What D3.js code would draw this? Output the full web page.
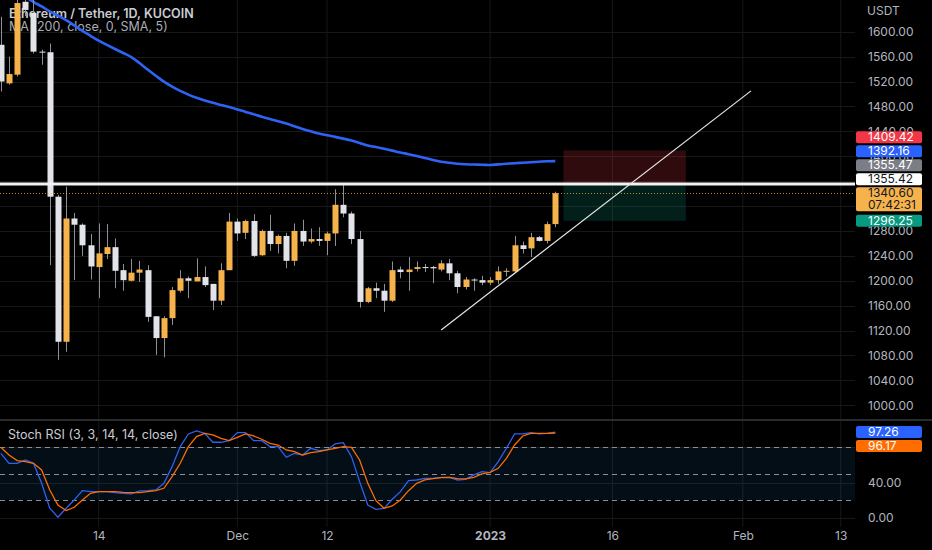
<!DOCTYPE html>
<html>
<head>
<meta charset="utf-8">
<script src="https://cdn.jsdelivr.net/npm/d3@7"></script>
<style>
  html, body { margin: 0; padding: 0; background: #000; overflow: hidden; }
  svg { display: block; font-family: Inter, "Noto Sans", sans-serif; }
</style>
</head>
<body>
<script>
// ---- data ----
var dates = [
  "2022-11-02","2022-11-03","2022-11-04","2022-11-05","2022-11-06","2022-11-07","2022-11-08","2022-11-09","2022-11-10","2022-11-11",
  "2022-11-12","2022-11-13","2022-11-14","2022-11-15","2022-11-16","2022-11-17","2022-11-18","2022-11-19","2022-11-20","2022-11-21",
  "2022-11-22","2022-11-23","2022-11-24","2022-11-25","2022-11-26","2022-11-27","2022-11-28","2022-11-29","2022-11-30",
  "2022-12-01","2022-12-02","2022-12-03","2022-12-04","2022-12-05","2022-12-06","2022-12-07","2022-12-08","2022-12-09","2022-12-10",
  "2022-12-11","2022-12-12","2022-12-13","2022-12-14","2022-12-15","2022-12-16","2022-12-17","2022-12-18","2022-12-19","2022-12-20",
  "2022-12-21","2022-12-22","2022-12-23","2022-12-24","2022-12-25","2022-12-26","2022-12-27","2022-12-28","2022-12-29","2022-12-30",
  "2022-12-31","2023-01-01","2023-01-02","2023-01-03","2023-01-04","2023-01-05","2023-01-06","2023-01-07","2023-01-08","2023-01-09"
];
var opens = [
  1579,1517,1531,1648,1630,1568,1567,1335,1102,1300, 1290,1257,1222,1243,1254,1217,1200,1213,1217,1143,
  1108,1140,1184,1204,1199,1206,1195,1168,1217,
  1295,1277,1296,1241,1280,1259,1272,1232,1280,1263, 1267,1264,1276,1322,1308,1267,1166,1188,1184,1168,
  1218,1214,1219,1222,1222,1218,1228,1212,1190,1202, 1201,1197,1201,1215,1215,1257,1252,1270,1264,1291
];
var highs = [
  1624,1560,1670,1665,1652,1571,1581,1338,1351,1309, 1292,1275,1292,1291,1268,1227,1235,1232,1225,1143,
  1143,1190,1217,1207,1236,1223,1195,1228,1309,
  1300,1298,1307,1282,1306,1274,1277,1292,1298,1284, 1286,1279,1347,1354,1311,1280,1190,1197,1195,1231,
  1223,1238,1231,1227,1224,1233,1235,1216,1206,1204, 1208,1206,1223,1220,1272,1263,1277,1272,1295,1343
];
var lows = [
  1504,1515,1528,1625,1565,1547,1225,1073,1086,1201, 1240,1202,1172,1235,1188,1184,1199,1198,1134,1081,
  1077,1129,1181,1172,1199,1190,1153,1161,1217,
  1264,1267,1238,1240,1248,1244,1220,1224,1256,1260, 1256,1241,1256,1302,1259,1157,1164,1172,1150,1166,
  1204,1184,1215,1214,1196,1215,1201,1180,1186,1184, 1193,1193,1195,1207,1214,1244,1238,1263,1260,1286
];
var closes = [
  1520,1532,1646,1635,1568,1567,1335,1102,1300,1290, 1257,1223,1244,1254,1216,1201,1213,1218,1142,1108,
  1140,1185,1204,1200,1206,1193,1168,1217,1295,
  1276,1296,1240,1280,1259,1272,1232,1280,1263,1267, 1264,1276,1322,1308,1267,1166,1188,1184,1168,1217,
  1214,1218,1222,1221,1220,1228,1212,1190,1202,1201, 1197,1201,1215,1216,1257,1251,1270,1264,1291,1340.6
];
var maValues = [
  null,null,null,1656,1648,1640.5,1632.8,1625.7,1618.6,1610.1, 1601.4,1593.4,1585.5,1578.8,1572.2,1565.8,1559.2,1549.7,1539.3,1529.3,
  1519.7,1511.8,1504.9,1499,1493.9,1489.6,1485.8,1482.3,1478.9,
  1475.2,1471.2,1467.3,1463.3,1459.7,1456.3,1452.4,1448.1,1443.7,1440, 1436.4,1433.6,1431.1,1428.3,1425.1,1421.4,1417.4,1414.8,1411.9,1409,
  1406,1403.3,1400.4,1397.3,1394.1,1391.1,1389.5,1388,1387.2,1386.7, 1386.4,1385.9,1386.9,1387.9,1388.8,1389.6,1390.4,1391.2,1392,1392.16
];
var stochK = [
  73.2,61.9,61.9,65.7,61.9,39.2,11,0.8,11,20.4, 31,29.8,29.8,29.8,28.7,27.9,27.2,30.6,31,31.7,
  39.2,58.1,80.8,95.1,98.5,95.8,85.7,85.7,87.5,
  96.6,96.6,87.5,87.5,80.8,80.8,68.7,73.2,71.3,78.9, 76.2,77,83.8,85.3,69.4,41.1,14.7,9.8,10.9,21.1,
  29.8,42.3,43,44.9,44.9,46,46,43,43.8,48.7, 52.5,51.3,63.8,78.9,95.1,95.1,96.6,95.1,95.8,97.26
];
var stochD = [
  80,71.3,64.9,63.8,61.9,54.3,31.7,14.7,8.3,12.1, 20.4,27.9,29.8,29.8,29.8,29,28.7,28.7,29.8,31,
  33.6,46.8,61.9,80.8,92.1,95.8,94,90.2,87.5,
  91.3,95.1,92.8,89.1,84.5,82.6,77,75.1,71.3,74, 75.1,77,78.9,80.8,80,65.7,39.2,19.6,10.9,13.6,
  20.4,30.9,39.2,43,44.5,45.7,46,44.5,44.2,46, 49.8,51.7,56.2,67.5,82.6,92.8,95.8,95.8,95.8,96.17
];

var priceTicks = [1000,1040,1080,1120,1160,1200,1240,1280,1320,1360,1400,1440,1480,1520,1560,1600];
var stochTicks = [0, 40, 80];
var stochBands = [80, 50, 20];
var timeTicks = ["2022-11-14","2022-12-01","2022-12-12","2023-01-01","2023-01-16","2023-02-01","2023-02-13"];
var timeTickLabels = ["14","Dec","12","2023","16","Feb","13"];

var resistance = 1355.42;
var lastPrice = 1340.60;
var countdown = "07:42:31";
var trendDates = ["2022-12-26","2023-02-02"];
var trendPrices = [1121, 1505];
var positionDates = ["2023-01-10","2023-01-25"];
var positionTarget = 1409.42, positionEntry = 1355.47, positionStop = 1296.25;

// ---- layout ----
var W = 932, H = 550;
var plotW = 855;          // right edge of the panes, price axis after it
var mainBottom = 419;
var axisX = 856, labelTextX = 868;

var parse = d3.utcParse("%Y-%m-%d");
var candles = dates.map(function(d, i){
  return {date: parse(d), o: opens[i], h: highs[i], l: lows[i], c: closes[i],
          ma: maValues[i], k: stochK[i], dd: stochD[i]};
});

// scales
var xScale = d3.scaleUtc()
  .domain([parse("2022-11-14"), parse("2023-02-13")])
  .range([98.7, 840.7]);
var yScale = d3.scaleLinear().domain([1000, 1600]).range([405.3, 31.7]);
var sScale = d3.scaleLinear().domain([20, 80]).range([500.3, 447.3]);

var upCol = "#f6b34c", downCol = "#e2e4ea", wickCol = "#8e9098";

var svg = d3.select("body").append("svg")
  .attr("width", W).attr("height", H);
svg.append("rect").attr("width", W).attr("height", H).attr("fill", "#000");

var defs = svg.append("defs");
defs.append("clipPath").attr("id", "mainClip")
  .append("rect").attr("x", 0).attr("y", 0).attr("width", plotW).attr("height", mainBottom);
defs.append("clipPath").attr("id", "stochClip")
  .append("rect").attr("x", 0).attr("y", mainBottom + 2).attr("width", plotW).attr("height", 110);

// grid
var grid = svg.append("g").attr("stroke", "#161719").attr("stroke-width", 1);
grid.selectAll("line.v").data(timeTicks).enter().append("line")
  .attr("x1", function(d){ return xScale(parse(d)); })
  .attr("x2", function(d){ return xScale(parse(d)); })
  .attr("y1", 0).attr("y2", 527);
grid.selectAll("line.h").data(priceTicks).enter().append("line")
  .attr("x1", 0).attr("x2", plotW)
  .attr("y1", function(d){ return Math.round(yScale(d)) + 0.5; })
  .attr("y2", function(d){ return Math.round(yScale(d)) + 0.5; });
grid.selectAll("line.s").data(stochTicks).enter().append("line")
  .attr("x1", 0).attr("x2", plotW)
  .attr("y1", function(d){ return Math.round(sScale(d)) + 0.5; })
  .attr("y2", function(d){ return Math.round(sScale(d)) + 0.5; });

// legend (sits under the candles like in the screenshot)
svg.append("text").attr("x", 9).attr("y", 17.5)
  .attr("fill", "#c9ccd4").attr("font-size", 12.5).attr("font-weight", 600)
  .text("Ethereum / Tether, 1D, KUCOIN");
svg.append("text").attr("x", 9).attr("y", 31)
  .attr("fill", "#a9acb5").attr("font-size", 12.5)
  .text("MA (200, close, 0, SMA, 5)");

var main = svg.append("g").attr("clip-path", "url(#mainClip)");

// long position box
var px0 = xScale(parse(positionDates[0])), px1 = xScale(parse(positionDates[1]));
main.append("rect").attr("x", px0).attr("width", px1 - px0)
  .attr("y", yScale(positionTarget)).attr("height", yScale(positionEntry) - yScale(positionTarget))
  .attr("fill", "rgba(242,54,69,0.2)");
main.append("rect").attr("x", px0).attr("width", px1 - px0)
  .attr("y", yScale(positionEntry)).attr("height", yScale(positionStop) - yScale(positionEntry))
  .attr("fill", "rgba(8,153,129,0.2)");

// MA line
main.append("path")
  .datum(candles.filter(function(d){ return d.ma != null; }))
  .attr("fill", "none").attr("stroke", "#2f63f5").attr("stroke-width", 2.6)
  .attr("stroke-linejoin", "round")
  .attr("d", d3.line().curve(d3.curveMonotoneX)
    .x(function(d){ return xScale(d.date); })
    .y(function(d){ return yScale(d.ma); }));

// candles
var bw = 6;
var cg = main.selectAll("g.candle").data(candles).enter().append("g");
cg.append("line")
  .attr("x1", function(d){ return Math.round(xScale(d.date)) + 0.5; })
  .attr("x2", function(d){ return Math.round(xScale(d.date)) + 0.5; })
  .attr("y1", function(d){ return yScale(d.h); })
  .attr("y2", function(d){ return yScale(d.l); })
  .attr("stroke", wickCol).attr("stroke-width", 1);
cg.append("rect")
  .attr("x", function(d){ return Math.round(xScale(d.date)) + 0.5 - bw / 2; })
  .attr("width", bw)
  .attr("y", function(d){ return yScale(Math.max(d.o, d.c)); })
  .attr("height", function(d){ return Math.max(1, Math.abs(yScale(d.o) - yScale(d.c))); })
  .attr("fill", function(d){ return d.c >= d.o ? upCol : downCol; });

// horizontal resistance line and last price line
main.append("line").attr("x1", 0).attr("x2", plotW)
  .attr("y1", yScale(resistance)).attr("y2", yScale(resistance))
  .attr("stroke", "#f2f2f2").attr("stroke-width", 3);
main.append("line").attr("x1", 0).attr("x2", plotW)
  .attr("y1", Math.round(yScale(lastPrice)) + 0.5).attr("y2", Math.round(yScale(lastPrice)) + 0.5)
  .attr("stroke", upCol).attr("stroke-opacity", 0.75).attr("stroke-width", 1)
  .attr("stroke-dasharray", "1,2");

// trend line
main.append("line")
  .attr("x1", xScale(parse(trendDates[0]))).attr("y1", yScale(trendPrices[0]))
  .attr("x2", xScale(parse(trendDates[1]))).attr("y2", yScale(trendPrices[1]))
  .attr("stroke", "#e8e8e8").attr("stroke-width", 1.2);

// ---- axes helpers ----
var axisCol = "#b2b5be";
var fmt = d3.format(".2f");

// stack value labels so they don't collide (bottom-up or top-down)
function stackLabels(items, fromBottom) {
  var gap = 2, limit = fromBottom ? Infinity : -Infinity;
  items.sort(function(a, b){ return fromBottom ? b.y - a.y : a.y - b.y; });
  items.forEach(function(d){
    var top = d.y - 6;
    if (fromBottom && top + d.h > limit - gap) top = limit - gap - d.h;
    if (!fromBottom && top < limit + gap) top = limit + gap;
    d.top = top;
    limit = fromBottom ? top : top + d.h;
  });
  return items;
}
function drawLabels(items) {
  var g = svg.append("g").selectAll("g").data(items).enter().append("g");
  g.append("rect").attr("x", axisX).attr("y", function(d){ return d.top; })
    .attr("width", 66).attr("height", function(d){ return d.h; })
    .attr("rx", 2).attr("fill", function(d){ return d.bg; });
  g.each(function(d){
    var sel = d3.select(this);
    d.lines.forEach(function(t, i){
      sel.append("text").attr("x", labelTextX).attr("y", d.top + 10.2 + i * 12)
        .attr("fill", d.fg).attr("font-size", 12).text(t);
    });
  });
}
// tick labels whose centre sits inside a value label are hidden by it in the screenshot
function hiddenBy(items, y) {
  return items.some(function(d){ return y > d.top + 3 && y < d.top + d.h - 1; });
}

// ---- price axis ----
var priceLabels = stackLabels([
  {y: yScale(positionTarget), h: 12, bg: "#f23645", fg: "#fff", lines: [fmt(positionTarget)]},
  {y: yScale(maValues[maValues.length - 1]), h: 12, bg: "#2962ff", fg: "#fff", lines: [fmt(maValues[maValues.length - 1])]},
  {y: yScale(positionEntry), h: 12, bg: "#7b7e87", fg: "#fff", lines: [fmt(positionEntry)]},
  {y: yScale(resistance) + 0.01, h: 12, bg: "#ffffff", fg: "#131722", lines: [fmt(resistance)]},
  {y: yScale(lastPrice), h: 24, bg: upCol, fg: "#131722", lines: [fmt(lastPrice), countdown]},
  {y: yScale(positionStop), h: 12, bg: "#089981", fg: "#fff", lines: [fmt(positionStop)]}
], true);

var yAxis = d3.axisRight(yScale)
  .tickValues(priceTicks.filter(function(t){ return !hiddenBy(priceLabels, yScale(t)); }))
  .tickFormat(fmt).tickSize(0).tickPadding(0);
var ya = svg.append("g").attr("transform", "translate(" + labelTextX + ",0)").call(yAxis);
ya.select(".domain").remove();
ya.selectAll("text").attr("fill", axisCol).attr("font-size", 12).attr("font-family", "Inter, sans-serif");
svg.append("text").attr("x", labelTextX - 1).attr("y", 15)
  .attr("fill", axisCol).attr("font-size", 12).text("USDT");
drawLabels(priceLabels);

// ---- pane separator ----
svg.append("line").attr("x1", 0).attr("x2", W).attr("y1", 420).attr("y2", 420)
  .attr("stroke", "#2a2b2f").attr("stroke-width", 2);

// ---- stoch RSI pane ----
var sp = svg.append("g").attr("clip-path", "url(#stochClip)");
sp.append("rect").attr("x", 0).attr("width", plotW)
  .attr("y", sScale(80)).attr("height", sScale(20) - sScale(80))
  .attr("fill", "rgba(33,150,243,0.09)");
sp.selectAll("line.band").data(stochBands).enter().append("line")
  .attr("x1", 0).attr("x2", plotW)
  .attr("y1", function(d){ return Math.round(sScale(d)) + 0.5; })
  .attr("y2", function(d){ return Math.round(sScale(d)) + 0.5; })
  .attr("stroke", "#8a8d96").attr("stroke-width", 1).attr("stroke-dasharray", "5,4");
sp.append("path").datum(candles)
  .attr("fill", "none").attr("stroke", "#2e62f0").attr("stroke-width", 1.3)
  .attr("d", d3.line().x(function(d){ return xScale(d.date); }).y(function(d){ return sScale(d.k); }));
sp.append("path").datum(candles)
  .attr("fill", "none").attr("stroke", "#ff6d00").attr("stroke-width", 1.3)
  .attr("d", d3.line().x(function(d){ return xScale(d.date); }).y(function(d){ return sScale(d.dd); }));

svg.append("text").attr("x", 8).attr("y", 438.5)
  .attr("fill", "#c9ccd4").attr("font-size", 12.5)
  .text("Stoch RSI (3, 3, 14, 14, close)");

var stochLabels = stackLabels([
  {y: sScale(stochK[stochK.length - 1]), h: 12, bg: "#2962ff", fg: "#fff", lines: [fmt(stochK[stochK.length - 1])]},
  {y: sScale(stochD[stochD.length - 1]), h: 12, bg: "#ff6d00", fg: "#fff", lines: [fmt(stochD[stochD.length - 1])]}
], false);

var sAxis = d3.axisRight(sScale)
  .tickValues(stochTicks.filter(function(t){ return !hiddenBy(stochLabels, sScale(t)); }))
  .tickFormat(fmt).tickSize(0).tickPadding(0);
var sa = svg.append("g").attr("transform", "translate(" + labelTextX + ",0)").call(sAxis);
sa.select(".domain").remove();
sa.selectAll("text").attr("fill", axisCol).attr("font-size", 12).attr("font-family", "Inter, sans-serif");
drawLabels(stochLabels);

// ---- time axis ----
var xAxis = d3.axisBottom(xScale).tickValues(timeTicks.map(parse))
  .tickFormat(function(d, i){ return timeTickLabels[i]; }).tickSize(0).tickPadding(0);
var xa = svg.append("g").attr("transform", "translate(0,531)").call(xAxis);
xa.select(".domain").remove();
xa.selectAll("text").attr("fill", axisCol).attr("font-size", 12).attr("font-family", "Inter, sans-serif")
  .attr("font-weight", function(d, i){ return timeTickLabels[i] === "2023" ? 700 : 400; });
</script>
</body>
</html>
